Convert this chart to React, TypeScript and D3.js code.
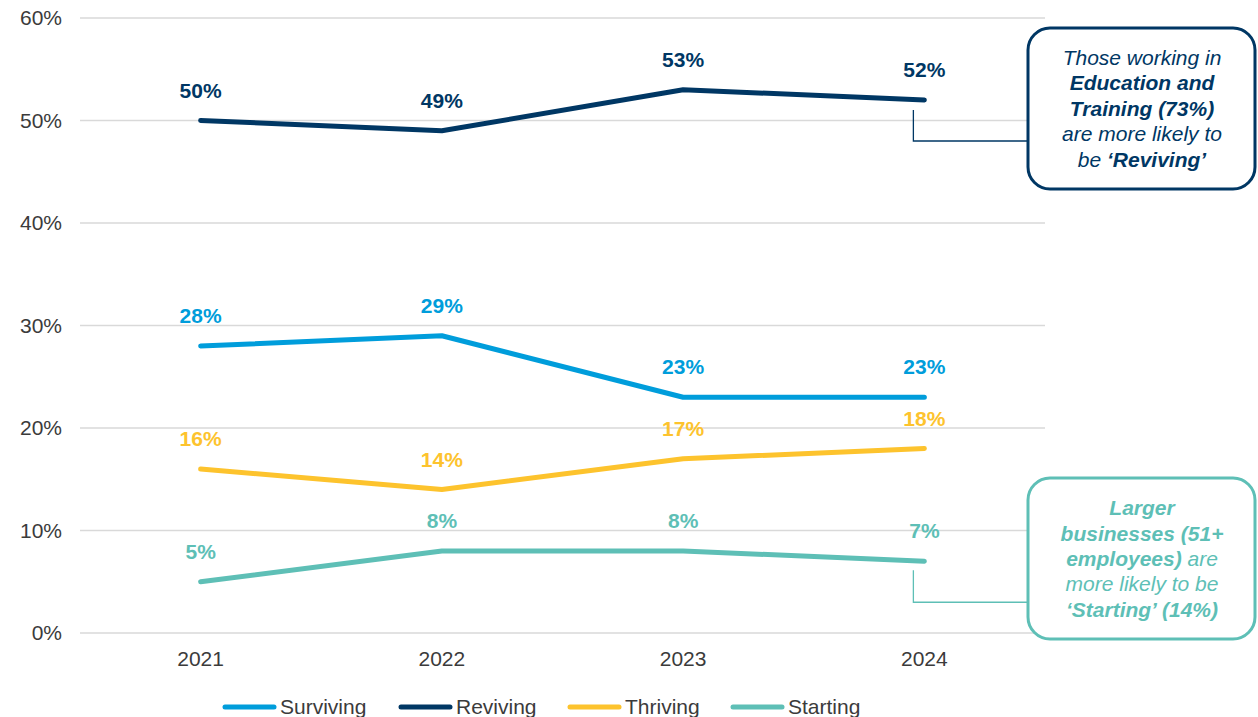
import React from "react";
import * as d3 from "d3";

const years = ["2021", "2022", "2023", "2024"];
const surviving = [28, 29, 23, 23];
const reviving = [50, 49, 53, 52];
const thriving = [16, 14, 17, 18];
const starting = [5, 8, 8, 7];
const yTicks = [0, 10, 20, 30, 40, 50, 60];

const series = [
  { name: "Surviving", values: surviving, color: "#009ddb" },
  { name: "Reviving", values: reviving, color: "#003764" },
  { name: "Thriving", values: thriving, color: "#fdc32d" },
  { name: "Starting", values: starting, color: "#5ebfb6" },
];

const font = "'Liberation Sans', Arial, sans-serif";

export default function App() {
  const width = 1258;
  const height = 717;
  const x = d3.scaleBand().domain(years).range([80, 1045]);
  const y = d3.scaleLinear().domain([0, 60]).range([633, 18]);
  const cx = (d: string) => (x(d) ?? 0) + x.bandwidth() / 2;

  const line = d3
    .line<number>()
    .x((_, i) => cx(years[i]))
    .y((v) => y(v));

  const legendX = [222, 398, 567, 730];

  const lastX = cx(years[3]);

  return (
    <svg
      width={width}
      height={height}
      style={{ position: "absolute", left: 0, top: 0, background: "#fff" }}
      fontFamily={font}
    >
      {/* grid + y axis */}
      {yTicks.map((t) => (
        <g key={t}>
          <line x1={80} x2={1045} y1={y(t)} y2={y(t)} stroke="#d9d9d9" strokeWidth={1.3} />
          <text x={62} y={y(t)} dy="0.35em" textAnchor="end" fontSize={21} fill="#3b3b3b">
            {t}%
          </text>
        </g>
      ))}

      {/* x axis labels */}
      {years.map((yr) => (
        <text key={yr} x={cx(yr)} y={666} textAnchor="middle" fontSize={21} fill="#3b3b3b">
          {yr}
        </text>
      ))}

      {/* lines */}
      {series.map((s) => (
        <g key={s.name}>
          <path
            d={line(s.values) ?? ""}
            fill="none"
            stroke={s.color}
            strokeWidth={5}
            strokeLinecap="round"
            strokeLinejoin="round"
          />
          {s.values.map((v, i) => (
            <text
              key={i}
              x={cx(years[i])}
              y={y(v) - 23}
              textAnchor="middle"
              fontSize={21}
              fontWeight="bold"
              fill={s.color}
            >
              {v}%
            </text>
          ))}
        </g>
      ))}

      {/* annotation connectors */}
      <path
        d={`M${lastX - 11},${y(52) + 10} V${y(52) + 41} H1027`}
        fill="none"
        stroke="#003764"
        strokeWidth={1.3}
      />
      <path
        d={`M${lastX - 11},${y(7) + 9} V${y(7) + 41} H1027`}
        fill="none"
        stroke="#5ebfb6"
        strokeWidth={1.3}
      />

      {/* annotation boxes */}
      <rect x={1028} y={28} width={227} height={161} rx={22} fill="#fff" stroke="#003764" strokeWidth={3} />
      <text textAnchor="middle" fontSize={21} fontStyle="italic" fill="#003764">
        <tspan x={1142} y={65}>Those working in</tspan>
        <tspan x={1142} y={90} fontWeight="bold">Education and</tspan>
        <tspan x={1142} y={116} fontWeight="bold">Training (73%)</tspan>
        <tspan x={1142} y={141}>are more likely to</tspan>
        <tspan x={1142} y={167}>
          be <tspan fontWeight="bold">‘Reviving’</tspan>
        </tspan>
      </text>

      <rect x={1028} y={478} width={227} height={161} rx={22} fill="#fff" stroke="#5ebfb6" strokeWidth={3} />
      <text textAnchor="middle" fontSize={21} fontStyle="italic" fill="#5ebfb6">
        <tspan x={1142} y={515} fontWeight="bold">Larger</tspan>
        <tspan x={1142} y={541} fontWeight="bold">businesses (51+</tspan>
        <tspan x={1142} y={566}>
          <tspan fontWeight="bold">employees)</tspan> are
        </tspan>
        <tspan x={1142} y={591}>more likely to be</tspan>
        <tspan x={1142} y={617} fontWeight="bold">‘Starting’ (14%)</tspan>
      </text>

      {/* legend */}
      {series.map((s, i) => (
        <g key={s.name}>
          <line
            x1={legendX[i] + 3}
            x2={legendX[i] + 52}
            y1={707}
            y2={707}
            stroke={s.color}
            strokeWidth={5}
            strokeLinecap="round"
          />
          <text x={legendX[i] + 58} y={707} dy="0.35em" fontSize={21} fill="#3b3b3b">
            {s.name}
          </text>
        </g>
      ))}
    </svg>
  );
}
